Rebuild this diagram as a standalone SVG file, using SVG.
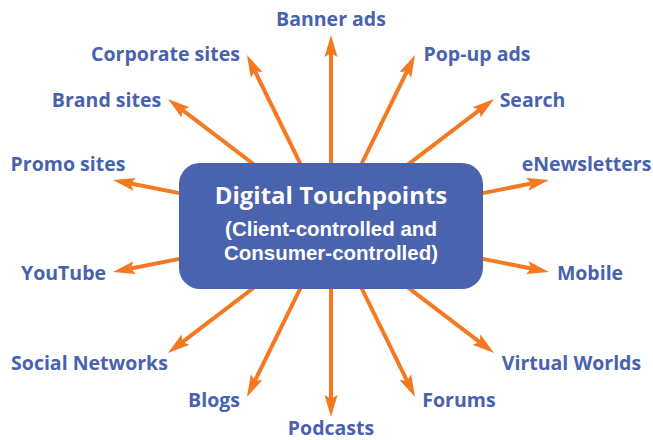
<svg xmlns="http://www.w3.org/2000/svg" width="653" height="440" viewBox="0 0 653 440">
  <style>
    .lbl { font-family: "Open Sans", "Liberation Sans", sans-serif; font-weight: 700; font-size: 19.5px; fill: #4862ad; text-anchor: middle; }
    .title { font-family: "Open Sans", "Liberation Sans", sans-serif; font-weight: 700; fill: #ffffff; text-anchor: middle; }
    .sub { font-family: "Liberation Sans", "Open Sans", sans-serif; font-weight: 700; font-size: 20.5px; fill: #ffffff; text-anchor: middle; }
    .arrow { stroke: #f47920; stroke-width: 4; fill: none; marker-end: url(#head); }
  </style>
  <defs>
    <marker id="head" markerUnits="userSpaceOnUse" viewBox="-5 -8 24 16" refX="0" refY="0" markerWidth="24" markerHeight="16" orient="auto">
      <path d="M18,0 L-4,-6.5 L0,0 L-4,6.5 Z" fill="#f47920"/>
    </marker>
  </defs>
  <rect width="653" height="440" fill="#ffffff"/>

  <g id="connectors">
    <line class="arrow" x1="331" y1="170" x2="331" y2="53"/>
    <line class="arrow" x1="303.5" y1="170.2" x2="254.9" y2="71.2"/>
    <line class="arrow" x1="258.4" y1="167.8" x2="182.3" y2="109.9"/>
    <line class="arrow" x1="187" y1="194.6" x2="130.7" y2="183.5"/>
    <line class="arrow" x1="358.5" y1="170.2" x2="407.1" y2="71.2"/>
    <line class="arrow" x1="403.6" y1="167.8" x2="479.7" y2="109.9"/>
    <line class="arrow" x1="475" y1="194.6" x2="531.3" y2="183.5"/>
    <line class="arrow" x1="187" y1="257.4" x2="130.7" y2="268.5"/>
    <line class="arrow" x1="258.4" y1="284.2" x2="182.3" y2="342.1"/>
    <line class="arrow" x1="303.5" y1="281.8" x2="254.9" y2="380.8"/>
    <line class="arrow" x1="331" y1="282" x2="331" y2="399"/>
    <line class="arrow" x1="358.5" y1="281.8" x2="407.1" y2="380.8"/>
    <line class="arrow" x1="403.6" y1="284.2" x2="479.7" y2="342.1"/>
    <line class="arrow" x1="475" y1="257.4" x2="531.3" y2="268.5"/>
  </g>

  <g id="hub">
    <rect x="179" y="163" width="304" height="126" rx="21" ry="21" fill="#4963ae"/>
    <text class="title" x="331" y="204" font-size="24">Digital Touchpoints</text>
    <text class="sub" x="331" y="236">(Client-controlled and</text>
    <text class="sub" x="331" y="260">Consumer-controlled)</text>
  </g>

  <g id="banner-ads"><text class="lbl" x="331" y="26">Banner ads</text></g>
  <g id="corporate-sites"><text class="lbl" x="165.5" y="61">Corporate sites</text></g>
  <g id="brand-sites"><text class="lbl" x="106.5" y="107">Brand sites</text></g>
  <g id="promo-sites"><text class="lbl" x="68" y="171">Promo sites</text></g>
  <g id="popup-ads"><text class="lbl" x="477" y="61">Pop-up ads</text></g>
  <g id="search"><text class="lbl" x="532.5" y="107">Search</text></g>
  <g id="enewsletters"><text class="lbl" x="586.5" y="171">eNewsletters</text></g>
  <g id="youtube"><text class="lbl" x="63.5" y="280">YouTube</text></g>
  <g id="social-networks"><text class="lbl" x="89.5" y="370">Social Networks</text></g>
  <g id="blogs"><text class="lbl" x="214" y="407">Blogs</text></g>
  <g id="podcasts"><text class="lbl" x="331" y="435">Podcasts</text></g>
  <g id="forums"><text class="lbl" x="459" y="407">Forums</text></g>
  <g id="virtual-worlds"><text class="lbl" x="571.5" y="370">Virtual Worlds</text></g>
  <g id="mobile"><text class="lbl" x="590" y="280">Mobile</text></g>
</svg>
